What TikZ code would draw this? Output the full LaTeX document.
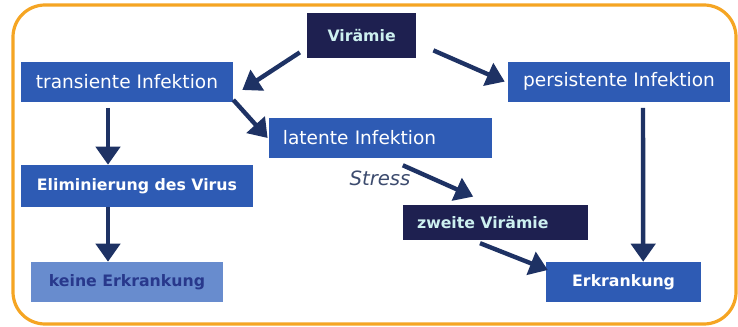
\documentclass[tikz,border=0pt]{standalone}
\usepackage{fontspec}
\setmainfont{DejaVu Sans}
\usetikzlibrary{positioning}
\usetikzlibrary{calc}
\usetikzlibrary{arrows.meta}
\definecolor{midblue}{RGB}{46,91,180}
\definecolor{navyblue}{RGB}{30,32,80}
\definecolor{paleblue}{RGB}{104,140,206}
\definecolor{cyantext}{RGB}{205,240,240}
\definecolor{darktext}{RGB}{40,56,140}
\definecolor{arrowblue}{RGB}{30,50,100}
\definecolor{frameorange}{RGB}{245,165,35}
\definecolor{stressgrey}{RGB}{60,75,110}
\tikzset{
    % Big filled arrow heads, as used for all the flow arrows
    >={Triangle[length=4.5mm,width=6mm]},
%
    % A plain box for one stage of the infection
    stage box/.style={
        rectangle, fill=midblue, text=white, minimum height=10mm,
        inner xsep=3.5mm, inner ysep=0, font=\fontsize{13.2}{15}\selectfont},
%
    % Bold lettering used in most of the boxes
    bold text/.style={font=\fontsize{11.2}{13}\selectfont\bfseries},
%
    % A darker box used for the viraemia stages
    viremia box/.style={stage box, fill=navyblue, text=cyantext, bold text},
%
    % A paler box for the harmless outcome
    pale box/.style={stage box, fill=paleblue, text=darktext, bold text},
%
    % The thick connecting arrows
    flow arrow/.style={draw=arrowblue, line width=1.1mm, ->}}

\begin{document}
\begin{tikzpicture}

% Outer frame

\useasboundingbox (0,0) rectangle (184.5mm,-81.75mm);
\draw [frameorange, line width=0.8mm, rounded corners=8mm]
    (3.25mm,-1.25mm) rectangle (184mm,-81mm);

\node [viremia box, minimum width=27.25mm, minimum height=11.25mm]
    (viremia) at (90.4mm,-8.9mm) {Virämie};
\node [stage box, minimum width=53mm]
    (transient) at (31.75mm,-20.4mm) {transiente Infektion};
\node [stage box, minimum width=55.5mm]
    (persistent) at (154.75mm,-20.4mm) {persistente Infektion};
\node [stage box, text width=48.75mm, align=left]
    (latent) at (95.1mm,-34.5mm) {latente Infektion};
\node [stage box, bold text, minimum width=58mm, minimum height=10.5mm]
    (elimination) at (34.25mm,-46.5mm) {Eliminierung des Virus};
\node [pale box, minimum width=48mm]
    (no disease) at (31.75mm,-70.5mm) {keine Erkrankung};
\node [viremia box, text width=39.25mm, align=left, minimum height=8.75mm]
    (second viremia) at (123.9mm,-55.6mm) {zweite Virämie};
\node [stage box, bold text, minimum width=38.75mm]
    (disease) at (155.9mm,-70.5mm) {Erkrankung};
\node [text=stressgrey, font=\fontsize{14}{16}\selectfont\itshape]
    (stress) at (95mm,-44.5mm) {Stress};

% Arrows

\path [flow arrow]
    ($(viremia.south west)+(-1.75mm,1.5mm)$) -- ($(transient.east)+(2.25mm,-2.1mm)$);
\path [flow arrow]
    ($(viremia.south east)+(4.25mm,2mm)$) -- ($(persistent.west)+(-0.75mm,0)$);
\path [flow arrow]
    ($(transient.south east)+(0,0.5mm)$) -- ($(latent.west)+(-0.25mm,0)$);
\path [flow arrow]
    ([xshift=-4.75mm,yshift=-1.5mm]transient.south) -- ([xshift=-7.25mm]elimination.north);
\path [flow arrow]
    ([xshift=-7.25mm]elimination.south) -- ([xshift=-4.75mm]no disease.north);
\path [flow arrow]
    ([xshift=6mm,yshift=-1.5mm]persistent.south) -- ([xshift=4.9mm]disease.north);
\path [flow arrow]
    ($(latent.south)+(5.6mm,-1.75mm)$) -- ($(second viremia.north)+(-5.6mm,2mm)$);
\path [flow arrow]
    ($(second viremia.south)+(-3.9mm,-0.75mm)$) -- ($(disease.west)+(0.5mm,3mm)$);

\end{tikzpicture}
\end{document}
